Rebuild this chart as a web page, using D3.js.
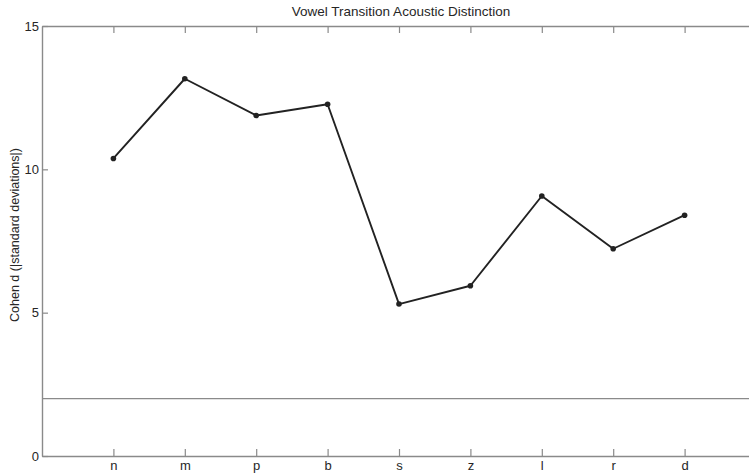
<!DOCTYPE html>
<html>
<head>
<meta charset="utf-8">
<script src="https://cdn.jsdelivr.net/npm/d3@7"></script>
<style>
  html, body { margin: 0; padding: 0; background: #fff; }
  svg { display: block; font-family: "Liberation Sans", Arial, Helvetica, sans-serif; }
</style>
</head>
<body>
<svg id="chart" width="749" height="476"></svg>
<script>
// Consonant contexts along the x axis
const consonants = ["n", "m", "p", "b", "s", "z", "l", "r", "d"];
// Effect size (Cohen d) per consonant
const cohenD = [10.38, 13.16, 11.88, 12.27, 5.30, 5.94, 9.07, 7.23, 8.40];
// Reference threshold line
const thresholdValue = [2];
// Y tick values
const yTicks = [0, 5, 10, 15];

const svg = d3.select("#chart");
const margin = { left: 42, top: 26 };
const axisRight = 756;
const plotBottom = 456;

const x = d3.scaleLinear().domain([0, consonants.length + 1]).range([margin.left, axisRight]);
const y = d3.scaleLinear().domain([0, 15]).range([plotBottom, margin.top]);

const axisColor = "#8a8a8a";
const textColor = "#262626";

// Threshold line
svg.selectAll("line.threshold").data(thresholdValue).join("line")
  .attr("class", "threshold")
  .attr("x1", x(0)).attr("x2", x(consonants.length + 1))
  .attr("y1", d => y(d)).attr("y2", d => y(d))
  .attr("stroke", axisColor).attr("stroke-width", 1.4);

const xTickVals = consonants.map((c, i) => i + 1);

// Bottom axis (ticks point inward)
const gBottom = svg.append("g").attr("transform", `translate(0,${y(0)})`)
  .call(d3.axisBottom(x).tickValues(xTickVals).tickFormat((d) => consonants[d - 1])
    .tickSizeInner(-7).tickSizeOuter(0).tickPadding(7));
// Top axis
const gTop = svg.append("g").attr("transform", `translate(0,${y(15)})`)
  .call(d3.axisTop(x).tickValues(xTickVals).tickFormat("")
    .tickSizeInner(-7).tickSizeOuter(0));
// Left axis
const gLeft = svg.append("g").attr("transform", `translate(${x(0)},0)`)
  .call(d3.axisLeft(y).tickValues(yTicks).tickFormat(d3.format("d"))
    .tickSizeInner(-6).tickSizeOuter(0).tickPadding(3));
// Right axis
const gRight = svg.append("g").attr("transform", `translate(${x(consonants.length + 1)},0)`)
  .call(d3.axisRight(y).tickValues(yTicks).tickFormat("")
    .tickSizeInner(-7).tickSizeOuter(0));

[gBottom, gTop, gLeft, gRight].forEach(g => {
  g.select(".domain").attr("stroke", axisColor).attr("stroke-width", 1.4);
  g.selectAll(".tick line").attr("stroke", axisColor).attr("stroke-width", 1.2);
  g.selectAll(".tick text").attr("fill", textColor).attr("font-size", 13)
    .attr("font-family", "Liberation Sans, Arial, sans-serif");
});
gBottom.selectAll(".tick text").attr("dy", "0.5em");

// Data line
const line = d3.line().x((d, i) => x(i + 1)).y(d => y(d));
svg.append("path").datum(cohenD)
  .attr("d", line)
  .attr("fill", "none").attr("stroke", "#222").attr("stroke-width", 1.9)
  .attr("stroke-linejoin", "round");

svg.selectAll("circle.pt").data(cohenD).join("circle")
  .attr("class", "pt")
  .attr("cx", (d, i) => x(i + 1)).attr("cy", d => y(d))
  .attr("r", 2.8).attr("fill", "#222");

// Title
svg.append("text")
  .attr("x", 401).attr("y", 16)
  .attr("text-anchor", "middle").attr("fill", textColor).attr("font-size", 13.5)
  .text("Vowel Transition Acoustic Distinction");

// Y axis label
svg.append("text")
  .attr("transform", `translate(19,235) rotate(-90)`)
  .attr("text-anchor", "middle").attr("fill", textColor).attr("font-size", 12.5)
  .text("Cohen d (|standard deviations|)");
</script>
</body>
</html>
